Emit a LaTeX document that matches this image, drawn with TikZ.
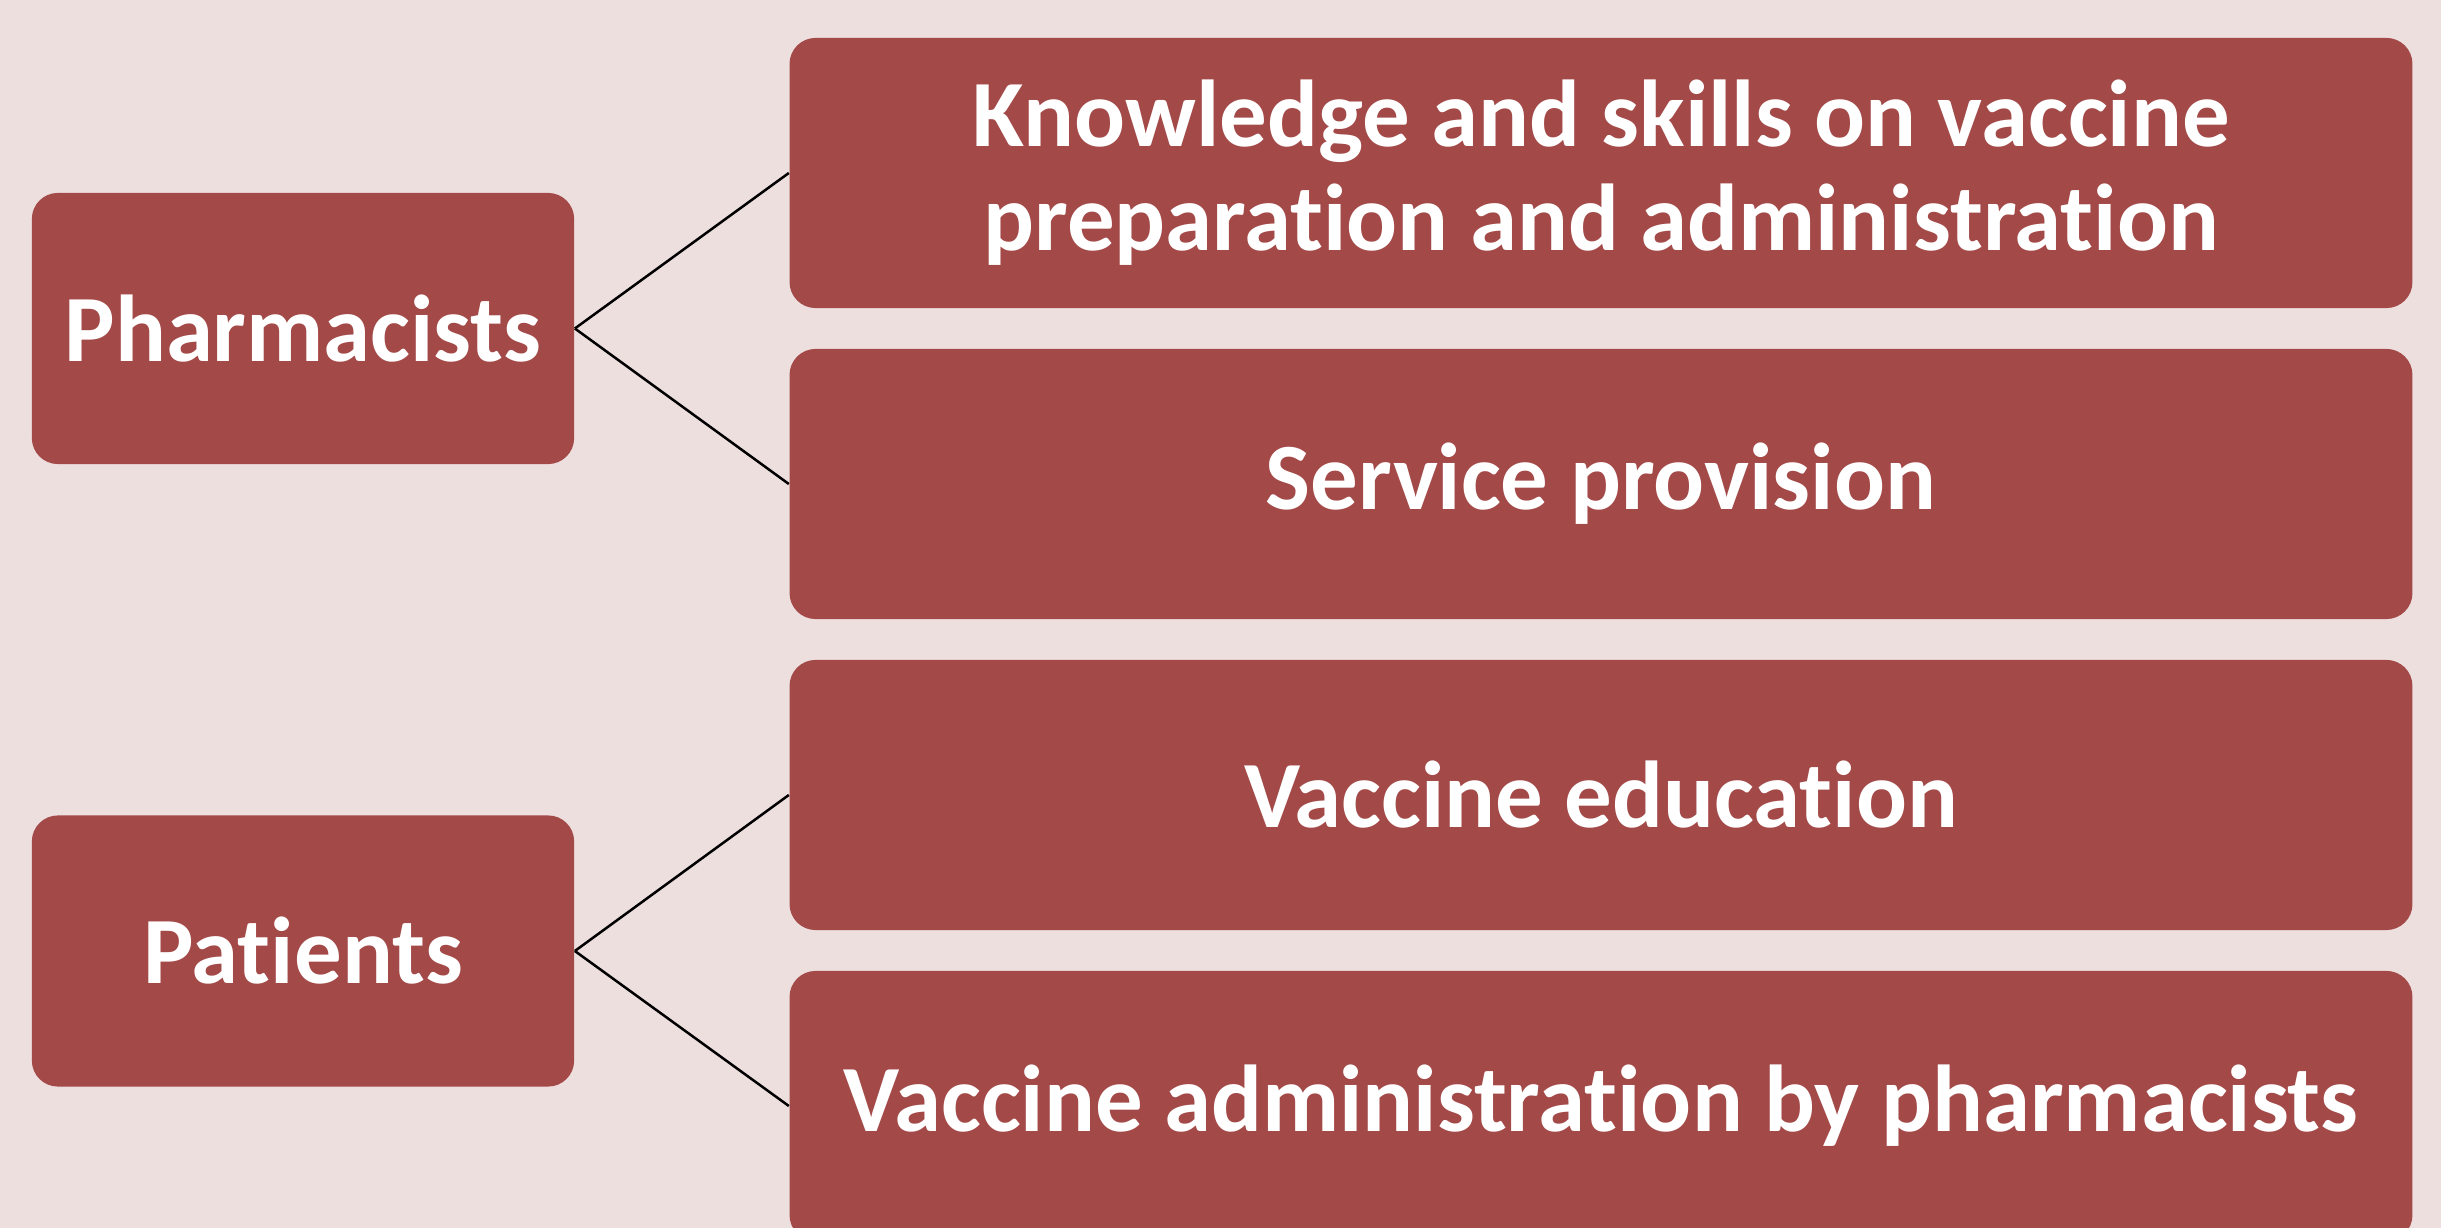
\documentclass[tikz,border=0pt]{standalone}
\usepackage{fontspec}
\setmainfont{Carlito}[Ligatures={NoCommon,NoRare,NoContextual}]
\definecolor{bgpink}{RGB}{238,223,223}
\definecolor{boxred}{RGB}{163,73,72}
\begin{document}
\begin{tikzpicture}[x=0.01cm,y=-0.01cm,
  box/.style={fill=boxred, rounded corners=0.26cm, text=white,
    font=\bfseries\fontsize{27}{29.6}\selectfont, align=center, inner sep=0pt},
  leftbox/.style={box, minimum width=5.42cm, minimum height=2.71cm},
  rightbox/.style={box, minimum width=16.22cm, minimum height=2.70cm},
  link/.style={black, line width=0.025cm}]
\useasboundingbox (0,0) rectangle (2441,1228);
\clip (0,0) rectangle (2441,1228);
\fill[bgpink] (0,0) rectangle (2441,1228);
\node[leftbox] (ph) at (303,328.5) {Pharmacists};
\node[leftbox] (pa) at (303,951) {Patients};
\node[rightbox] (k) at (1601,173) {Knowledge and skills on vaccine\\preparation and administration};
\node[rightbox] (s) at (1601,484) {Service provision};
\node[rightbox] (e) at (1601,795) {Vaccine education};
\node[rightbox] (a) at (1601,1106) {Vaccine administration by pharmacists};
\draw[link] (ph.east) -- (k.west);
\draw[link] (ph.east) -- (s.west);
\draw[link] (pa.east) -- (e.west);
\draw[link] (pa.east) -- (a.west);
\end{tikzpicture}
\end{document}
